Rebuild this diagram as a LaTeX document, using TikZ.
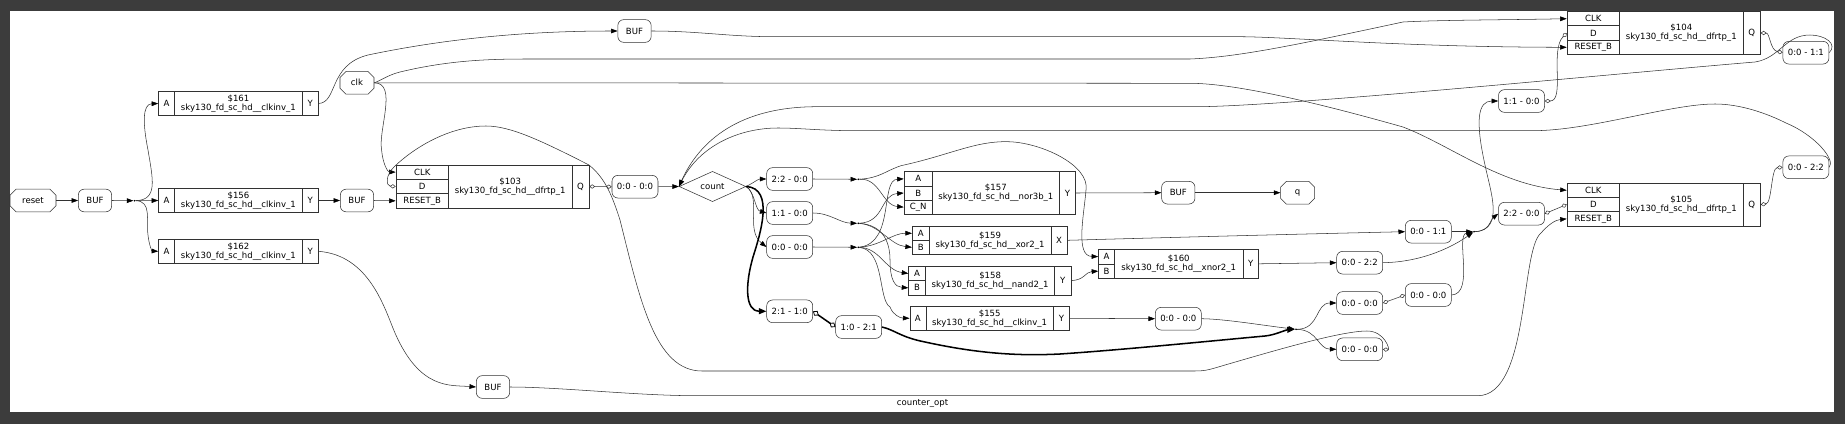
\documentclass[tikz,border=0pt]{standalone}
\usepackage{fontspec}
\setmainfont{DejaVu Sans}
\usepackage{tikz}
\usetikzlibrary{positioning, arrows.meta, shapes.geometric, shapes.misc}
\definecolor{framegray}{RGB}{60, 60, 60}
\definecolor{linegray}{RGB}{50, 50, 50}
\newcommand{\sky}[2]{\$#1\\sky130\_fd\_sc\_hd\_\_#2}
\tikzset{
  cell/.style={draw=linegray, line width=0.45pt, inner sep=0pt, align=center},
  wirebox/.style={draw=linegray, line width=0.45pt, rounded corners=5pt, inner sep=0pt,
    minimum width=1.38cm, minimum height=0.68cm},
  bufbox/.style={wirebox, minimum width=1cm},
  portbox/.style={draw=linegray, line width=0.45pt, chamfered rectangle, chamfered rectangle sep=0.09cm,
    inner sep=0pt, minimum height=0.68cm},
  junction/.style={circle, fill=black, inner sep=0pt, minimum size=1.6pt},
  wire/.style={draw=linegray, line width=0.45pt, -{Triangle[length=5.6pt,width=4pt,color=black]}},
  thickwire/.style={wire, line width=1.3pt, draw=black, -{Triangle[length=6.5pt,width=5pt]}},
  shiftwire/.style={draw=linegray, line width=0.45pt,
    {Diamond[open,fill=white,length=5pt,width=3.6pt]}-{Diamond[open,fill=white,length=5pt,width=3.6pt]}},
  thickshift/.style={draw=black, line width=1.3pt,
    {Diamond[open,fill=white,length=6pt,width=5pt,line width=0.7pt]}-{Diamond[open,fill=white,length=6pt,width=5pt,line width=0.7pt]}},
}
\begin{document}
\begin{tikzpicture}[x=0.03cm, y=-0.03cm, font=\fontsize{7.3}{7.7}\selectfont]
  % Frame
  \fill[framegray] (0,0) rectangle (1845,424);
  \fill[white] (10,11) rectangle (1834,412);
  % Cell boxes
  \foreach \nm/\txt/\xa/\ya/\xb/\yb in {
    u161a/A/158.5/91.7/174.4/115.3, u161m/\sky{161}{clkinv\_1}/174.4/91.7/302.5/115.3, u161y/Y/302.5/91.7/318/115.3,
    u156a/A/158.5/188.7/174.4/212.3, u156m/\sky{156}{clkinv\_1}/174.4/188.7/302.5/212.3, u156y/Y/302.5/188.7/318/212.3,
    u162a/A/158.5/239.3/174.4/263.3, u162m/\sky{162}{clkinv\_1}/174.4/239.3/302.5/263.3, u162y/Y/302.5/239.3/318/263.3,
    u103c/CLK/396/165/448.4/179.3, u103d/D/396/179.3/448.4/193.7, u103r/RESET\_B/396/193.7/448.4/208,
    u103m/\sky{103}{dfrtp\_1}/448.4/165/572/208, u103q/Q/572/165/589/208,
    u104c/CLK/1567/11.7/1619.6/25.7, u104d/D/1567/25.7/1619.6/40.3, u104r/RESET\_B/1567/40.3/1619.6/54.3,
    u104m/\sky{104}{dfrtp\_1}/1619.6/11.7/1743/54.3, u104q/Q/1743/11.7/1760.4/54.3,
    u105c/CLK/1567/183.3/1619.6/197.3, u105d/D/1567/197.3/1619.6/211.7, u105r/RESET\_B/1567/211.7/1619.6/226,
    u105m/\sky{105}{dfrtp\_1}/1619.6/183.3/1743/226, u105q/Q/1743/183.3/1760.4/226,
    u157a/A/904/171.7/932.4/186, u157b/B/904/186/932.4/200, u157c/C\_N/904/200/932.4/214.3,
    u157m/\sky{157}{nor3b\_1}/932.4/171.7/1059.3/214.3, u157y/Y/1059.3/171.7/1075.5/214.3,
    u159a/A/912.2/226.3/929.2/240.3, u159b/B/912.2/240.3/929.2/254.3,
    u159m/\sky{159}{xor2\_1}/929.2/226.3/1051/254.3, u159x/X/1051/226.3/1067.2/254.3,
    u158a/A/908.6/266.3/925.7/280.7, u158b/B/908.6/280.7/925.7/295,
    u158m/\sky{158}{nand2\_1}/925.7/266.3/1054.6/295, u158y/Y/1054.6/266.3/1070.8/295,
    u155a/A/909.8/306.3/926/330.3, u155m/\sky{155}{clkinv\_1}/926/306.3/1053.4/330.3, u155y/Y/1053.4/306.3/1069.6/330.3,
    u160a/A/1098.5/249.3/1114.7/264, u160b/B/1098.5/264/1114.7/278.3,
    u160m/\sky{160}{xnor2\_1}/1114.7/249.3/1242.8/278.3, u160y/Y/1242.8/249.3/1258.6/278.3}{
    \node[cell, minimum width={(\xb-\xa)*0.03cm}, minimum height={(\yb-\ya)*0.03cm}] (\nm)
      at ({(\xa+\xb)/2}, {(\ya+\yb)/2}) {\txt};
  }
  % Wire labels
  \foreach \nm/\txt/\xa/\ya in {
    w103/0:0 - 0:0/635/186.7, w22/2:2 - 0:0/789.7/179, w11/1:1 - 0:0/789.7/213, w00/0:0 - 0:0/789.7/247,
    w21/2:1 - 1:0/789.7/311.3, w10/1:0 - 2:1/858.7/327, w155/0:0 - 0:0/1178.3/318.7,
    wx/0:0 - 1:1/1428.3/231.7, wy/0:0 - 2:2/1359.7/262.7, wpa/0:0 - 0:0/1359.7/303, wpb/0:0 - 0:0/1428.3/295,
    wloop/0:0 - 0:0/1359.7/349.3, wq104/0:0 - 1:1/1805.9/52.7, wq105/0:0 - 2:2/1805.9/167.3,
    wtop/1:1 - 0:0/1521.5/101, wmid/2:2 - 0:0/1521.5/213.7}{
    \node[wirebox] (\nm) at (\xa, \ya) {\txt};
  }
  % Buffers
  \foreach \nm/\xa/\ya in {bufin/95/200.5, bufrst/357/200.5, buftop/634.5/31, bufbot/493/387, bufq/1178.3/192.7}{
    \node[bufbox] (\nm) at (\xa, \ya) {BUF};
  }
  % Ports
  \node[portbox, minimum width=1.38cm] (reset) at (33, 200.5) {reset};
  \node[portbox, minimum width=1.02cm] (clk) at (357, 82.8) {clk};
  \node[portbox, minimum width=1.02cm] (q) at (1297.6, 192.7) {q};
  \node[draw=linegray, line width=0.45pt, diamond, inner sep=0pt, minimum width=2cm, minimum height=0.68cm] (count) at (712.5, 186.5) {count};
  \node (title) at (922.5, 404) {counter\_opt};
  % Junctions
  \foreach \nm/\xa/\ya in {j0/134.5/200.7, j1/1474/231.7, j2/1296/329.3, j3/858.3/179.3, j4/858.3/223.3, j5/858.3/247.3}{
    \node[junction] (\nm) at (\xa, \ya) {};
  }
  % Reset tree
  \draw[wire] (reset.east) -- (bufin.west);
  \draw[wire] (bufin.east) -- (j0);
  \draw[wire] (j0) -- (u156a.west);
  \draw[wire] (j0) .. controls (158,200) and (153,180) .. (148,150) .. controls (143,125) and (142,104) .. (u161a.west);
  \draw[wire] (j0) .. controls (152,201) and (146,220) .. (148,235) .. controls (149,245) and (152,251) .. (u162a.west);
  \draw[wire] (u156y.east) -- (bufrst.west);
  \draw[wire] (bufrst.east) -- (u103r.west);
  \draw[wire] (u161y.east) .. controls (338,103) and (328,65) .. (368,55) .. controls (430,42) and (510,31) .. (buftop.west);
  \draw[wire] (u162y.east) .. controls (370,255) and (385,310) .. (395,333) .. controls (420,390) and (450,385) .. (bufbot.west);
  \draw[wire] (buftop.east) .. controls (700,31) and (730,37) .. (778,36.7) -- (1240,36.7) .. controls (1290,37) and (1400,47) .. (u104r.west);
  \draw[wire] (bufbot.east) .. controls (560,387) and (640,396) .. (699,395.7) -- (1478,395.7) .. controls (1530,395) and (1520,250) .. (1541,233) .. controls (1548,225) and (1555,220) .. (u105r.west);
  % Clock
  \draw[wire] (clk.east) .. controls (398,83) and (378,130) .. (381.6,150) .. controls (383,165) and (388,172) .. (u103c.west);
  \draw[wire] (clk.east) .. controls (382,80) and (388,75) .. (400,72) .. controls (450,60) and (490,59) .. (530,59) -- (1190,59) .. controls (1240,57) and (1300,44) .. (1403,22) .. controls (1440,20) and (1500,20) .. (u104c.west);
  \draw[wire] (clk.east) -- (1190,83.3) .. controls (1225,83.3) and (1290,95) .. (1403,127) .. controls (1450,145) and (1500,185) .. (u105c.west);
  % Flop outputs
  \draw[shiftwire] (u103q.east) -- (w103.west);
  \draw[wire] (w103.east) -- (count.west);
  \draw[shiftwire] (u104q.east) .. controls (1770,33) and (1770,50) .. (wq104.west);
  \draw[shiftwire] (u105q.east) .. controls (1772,203) and (1771,168) .. (wq105.west);
  \draw[wire] (wq104.east) .. controls (1838,44) and (1825,35) .. (1810,35) .. controls (1785,35) and (1780,58) .. (1755,62) .. controls (1600,75) and (1300,105) .. (1201,106.7) -- (817,106.7) .. controls (740,106.7) and (700,140) .. (count.west);
  \draw[wire] (wq105.east) .. controls (1836,160) and (1815,135) .. (1786,123) .. controls (1760,110) and (1735,104) .. (1715,104) .. controls (1670,104) and (1590,130.7) .. (1533,130.7) -- (857,130.7) .. controls (820,130.7) and (800,128) .. (778,128) .. controls (740,128) and (700,145) .. (count.west);
  \draw[shiftwire] (wloop.east) .. controls (1390,350) and (1385,331) .. (1367,331) .. controls (1340,331) and (1270,352) .. (1225,365) .. controls (1205,371) and (1205,371) .. (1190,371) -- (702,371) .. controls (655,371) and (640,300) .. (620,220) .. controls (612,195) and (605,178) .. (589,165) .. controls (540,140) and (510,126) .. (486,126) .. controls (450,126) and (415,147) .. (395,166) .. controls (385,175) and (386,186) .. (u103d.west);
  % Count fan out
  \draw[wire] (count.east) .. controls (755,182) and (758,179) .. (w22.west);
  \draw[wire] (count.east) .. controls (755,192) and (755,210) .. (w11.west);
  \draw[wire] (count.east) .. controls (762,197) and (745,230) .. (w00.west);
  \draw[thickwire] (count.east) .. controls (775,188) and (760,235) .. (753,257) .. controls (745,285) and (745,311) .. (w21.west);
  \draw[wire] (w22.east) -- (j3);
  \draw[wire] (w11.east) .. controls (830,213) and (840,223) .. (j4);
  \draw[wire] (w00.east) -- (j5);
  % Gate inputs
  \draw[wire] (j3) .. controls (880,178) and (882,205) .. (u157c.west);
  \draw[wire] (j3) .. controls (880,178) and (885,171) .. (901,165.7) .. controls (950,155) and (975,141) .. (1007.5,141.7) .. controls (1040,142) and (1090,165) .. (1086,190) .. controls (1084,215) and (1075,256) .. (u160a.west);
  \draw[wire] (j4) .. controls (885,222) and (880,195) .. (u157b.west);
  \draw[wire] (j5) .. controls (895,243) and (880,180) .. (u157a.west);
  \draw[wire] (j4) .. controls (880,225) and (890,245) .. (u159b.west);
  \draw[wire] (j5) .. controls (880,246) and (893,233) .. (u159a.west);
  \draw[wire] (j4) .. controls (885,225) and (890,245) .. (890,260) .. controls (890,280) and (895,287) .. (u158b.west);
  \draw[wire] (j5) .. controls (880,248) and (885,270) .. (u158a.west);
  \draw[wire] (j5) .. controls (885,250) and (878,300) .. (890,307) .. controls (893,315) and (900,318) .. (u155a.west);
  % Gate outputs
  \draw[wire] (u157y.east) -- (bufq.west);
  \draw[wire] (bufq.east) -- (q.west);
  \draw[wire] (u159x.east) .. controls (1150,238) and (1300,234) .. (wx.west);
  \draw[wire] (u158y.east) .. controls (1085,280) and (1085,272) .. (u160b.west);
  \draw[wire] (u155y.east) -- (w155.west);
  \draw[wire] (u160y.east) -- (wy.west);
  % Right hand merge
  \draw[wire] (wx.east) -- (j1);
  \draw[wire] (wy.east) .. controls (1425,262) and (1455,245) .. (j1);
  \draw[wire] (wpb.east) .. controls (1475,294) and (1455,235) .. (j1);
  \draw[wire] (j1) .. controls (1490,231) and (1490,220) .. (wmid.west);
  \draw[wire] (j1) .. controls (1505,230) and (1490,190) .. (1485,165) .. controls (1475,120) and (1478,101) .. (wtop.west);
  \draw[shiftwire] (wtop.east) .. controls (1565,101) and (1550,50) .. (u104d.west);
  \draw[shiftwire] (wmid.east) -- (u105d.west);
  % Lower merge
  \draw[thickshift] (w21.east) -- (w10.west);
  \draw[wire] (w155.east) .. controls (1225,319) and (1260,325) .. (j2);
  \draw[thickwire] (w10.east) .. controls (895,330) and (900,337) .. (925,342) .. controls (980,354) and (1020,356) .. (1060,354) .. controls (1120,350) and (1200,342) .. (1265,336) .. controls (1275,335) and (1285,330) .. (j2);
  \draw[wire] (j2) .. controls (1320,329) and (1315,303) .. (wpa.west);
  \draw[wire] (j2) .. controls (1318,330) and (1318,349) .. (wloop.west);
  \draw[shiftwire] (wpa.east) -- (wpb.west);
\end{tikzpicture}
\end{document}
